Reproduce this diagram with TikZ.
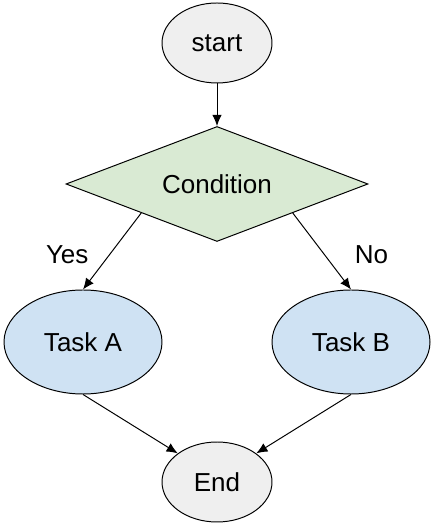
\documentclass[tikz,border=0pt]{standalone}
\usepackage{fontspec}
\setmainfont{Liberation Sans}
\usetikzlibrary{shapes.geometric, arrows.meta}

\definecolor{termgray}{HTML}{EFEFEF}
\definecolor{condgreen}{HTML}{D9EAD3}
\definecolor{taskblue}{HTML}{CFE2F3}

\begin{document}
\begin{tikzpicture}[
	font=\fontsize{18.5}{22}\selectfont,
	every path/.style={line width=0.7pt},
	terminal/.style={ellipse, draw, fill=termgray, inner sep=0pt, minimum width=2.75cm, minimum height=2cm},
	taskbox/.style={ellipse, draw, fill=taskblue, inner sep=0pt, minimum width=3.95cm, minimum height=2.6cm},
	decision/.style={diamond, draw, fill=condgreen, inner sep=0pt, aspect=2.63, minimum width=7.55cm, minimum height=2.875cm},
	flow/.style={-{Latex[length=0.28cm, width=0.24cm]}}]
	\useasboundingbox (0, 0) rectangle (10.875, 13.2);

	\node [terminal] (start) at (5.425, 12.125) {start};
	\node [decision] (cond) at (5.425, 8.6) {Condition};
	\node [taskbox] (taskA) at (2.075, 4.65) {Task A};
	\node [taskbox] (taskB) at (8.775, 4.65) {Task B};
	\node [terminal] (end) at (5.425, 1.15) {End};

	\draw [flow] (start) -- (cond);
	\draw [flow] (cond.south west) -- (taskA.north) node [pos=0.55, left=0.39cm] (yes) {Yes};
	\draw [flow] (cond.south east) -- (taskB.north) node [pos=0.55, right=0.62cm] (no) {No};
	\draw [flow] (taskA.south) -- (end.north west);
	\draw [flow] (taskB.south) -- (end.north east);
\end{tikzpicture}
\end{document}
